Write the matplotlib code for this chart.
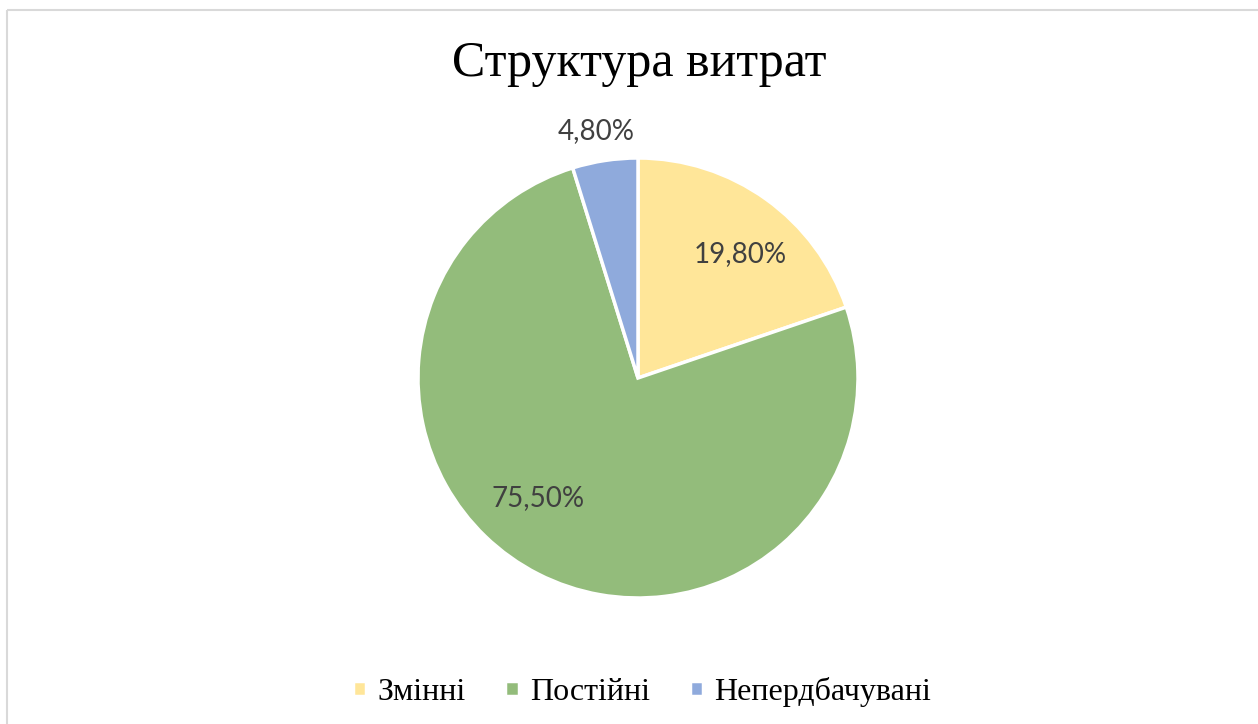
import numpy as np
import matplotlib.pyplot as plt
from matplotlib.patches import Rectangle

categories = ['Змінні', 'Постійні', 'Непердбачувані']
shares = [19.80, 75.50, 4.80]
colors = ['#FFE699', '#93BC7B', '#8FAADC']

# label placement: distance from centre (in radii) and angular nudge (deg)
label_dist = [0.73, 0.71, 1.14]
label_shift = [-4, -13, 1]

W, H = 1258, 724
fig = plt.figure(figsize=(W / 100, H / 100), dpi=100)

# light frame like the spreadsheet chart area
fig.patches.append(Rectangle((7 / W, 1 - 10 / H), 2, -2, transform=fig.transFigure,
                             fill=False, edgecolor='#d9d9d9', linewidth=1.5))

cx, cy, r = 638, 378, 220
ax = fig.add_axes([(cx - r) / W, (H - cy - r) / H, 2 * r / W, 2 * r / H])
wedges, _ = ax.pie(shares, colors=colors, startangle=90, counterclock=False,
                   wedgeprops=dict(edgecolor='white', linewidth=2.5))
ax.set_xlim(-1, 1)
ax.set_ylim(-1, 1)
ax.set_aspect('equal')
ax.axis('off')

for w, v, d, s in zip(wedges, shares, label_dist, label_shift):
    ang = np.deg2rad((w.theta1 + w.theta2) / 2 + s)
    ax.text(d * np.cos(ang), d * np.sin(ang), f'{v:.2f}'.replace('.', ',') + '%',
            ha='center', va='center', fontsize=20, color='#404040',
            family='Lato', clip_on=False)

fig.text(639.5 / W, 1 - 64 / H, 'Структура витрат', ha='center', va='center',
         fontsize=36, family='Liberation Serif', color='#000000')

fig.legend(wedges, categories, loc='center', bbox_to_anchor=(642 / W, 1 - 692 / H),
           ncol=3, frameon=False, handlelength=0.42, handleheight=0.32,
           handletextpad=0.35, columnspacing=1.25,
           prop={'family': 'Liberation Serif', 'size': 23})

fig.savefig('out.png', dpi=100)
